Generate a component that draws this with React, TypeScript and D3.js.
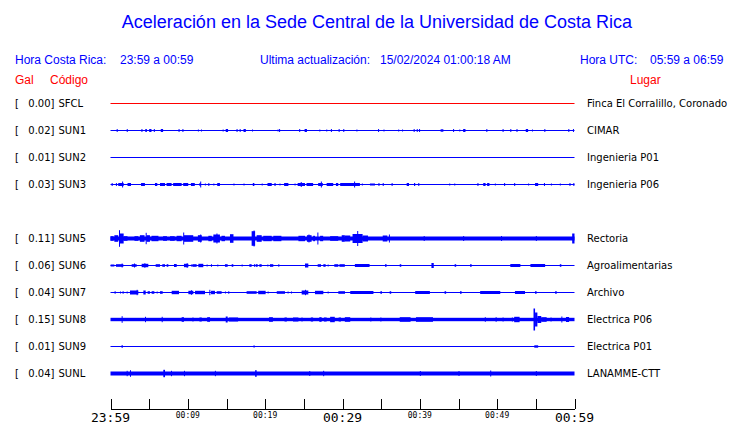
import React from "react";
import * as d3 from "d3";

// ---------- DATA ----------
const codes = ["SFCL", "SUN1", "SUN2", "SUN3", "SUN5", "SUN6", "SUN7", "SUN8", "SUN9", "SUNL"];
const rowSlots = [0, 1, 2, 3, 5, 6, 7, 8, 9, 10];
const pga = ["0.00", "0.02", "0.01", "0.03", "0.11", "0.06", "0.04", "0.15", "0.01", "0.04"];
const places = [
  "Finca El Corralillo, Coronado", "CIMAR", "Ingenieria P01", "Ingenieria P06",
  "Rectoria", "Agroalimentarias", "Archivo", "Electrica P06", "Electrica P01", "LANAMME-CTT",
];
const traceColors = ["#ff0000", "#0000ff", "#0000ff", "#0000ff", "#0000ff", "#0000ff", "#0000ff", "#0000ff", "#0000ff", "#0000ff"];
// background noise half-amplitude of each trace
const baseAmp = [0.5, 0.5, 0.5, 0.5, 2, 0.5, 0.5, 1.7, 0.5, 2];

// events: [start minute, end minute, half amplitude]
const sfclEvents: number[][] = [];
const sun1Events = [
  [0.8, 0.8, 1.5], [2.1, 2.1, 1.5], [4.0, 4.0, 1.5], [4.5, 4.7, 1.5], [5.0, 5.3, 1.5], [5.6, 5.6, 1.5], [6.5, 6.8, 1.5],
  [8.8, 8.8, 1.5], [9.3, 9.3, 1.5], [11.3, 11.3, 1], [11.7, 11.7, 1], [14.5, 14.5, 1], [14.9, 15.2, 1.5], [16.3, 16.3, 1.5],
  [16.7, 16.7, 1.5], [17.2, 17.5, 1.5], [18.3, 18.3, 1], [21.6, 21.6, 1], [21.8, 21.8, 1.5], [24.4, 24.4, 1.5],
  [25.1, 25.4, 1.5], [27.0, 27.0, 1], [27.9, 27.9, 1], [28.5, 28.5, 1.5], [29.5, 29.5, 1.5], [30.1, 30.1, 1.5],
  [31.8, 31.8, 1], [34.6, 34.6, 1.5], [35.3, 35.3, 1], [37.2, 37.2, 1], [37.7, 37.7, 1], [39.2, 39.2, 1.5],
  [39.6, 39.6, 1.5], [39.9, 39.9, 1.5], [42.7, 42.7, 1.5], [42.9, 42.9, 1.5], [44.3, 44.3, 1.5], [45.1, 45.1, 1],
  [45.6, 45.9, 1.5], [48.6, 48.6, 1.5], [50.7, 50.7, 1.5], [51.7, 51.7, 1.5], [52.5, 52.6, 1.5], [53.7, 54.0, 1.5],
  [54.5, 54.5, 1], [56.1, 56.1, 1.5], [59.2, 59.2, 1.5], [59.8, 59.8, 1.5],
];
const sun2Events: number[][] = [];
const sun3Events = [
  [0.15, 0.15, 1.5], [0.7, 0.7, 1.5], [1.0, 1.7, 1.5], [1.5, 1.5, 3], [2.2, 2.65, 1.5], [3.95, 4.45, 1.5],
  [5.75, 6.05, 1.5], [6.4, 7.05, 1.5], [7.25, 7.9, 1.5], [8.1, 9.2, 1.5], [9.4, 10.05, 1.5], [10.4, 10.9, 1.5],
  [11.5, 11.65, 1.5], [11.6, 11.6, 3], [12.2, 12.2, 1], [12.65, 12.65, 1.5], [13.3, 13.3, 1], [13.8, 14.15, 1.5],
  [15.9, 15.9, 1], [17.2, 17.2, 1], [18.4, 18.6, 1.5], [19.55, 19.55, 1], [20.3, 20.85, 1.5], [21.2, 21.35, 1.5],
  [21.85, 21.85, 1], [22.45, 23.0, 1.5], [23.8, 23.8, 1], [24.2, 25.15, 1.5], [24.6, 24.6, 2.5], [25.35, 26.2, 1.5],
  [26.85, 27.45, 1.5], [27.2, 27.2, 3], [27.95, 28.8, 1.5], [29.15, 29.45, 1.5], [29.7, 32.25, 1.5], [31.5, 31.5, 3],
  [32.5, 32.5, 1], [33.55, 34.2, 1], [34.65, 34.65, 1.5], [35.2, 35.2, 1.5], [36.35, 36.35, 1.5], [38.3, 38.6, 1.5],
  [39.25, 39.4, 1.5], [39.8, 39.9, 1.5], [43.8, 43.8, 1], [44.45, 44.45, 1], [47.45, 47.45, 1.5], [48.2, 48.5, 1.5],
  [48.7, 49.0, 1.5], [49.7, 49.7, 1], [50.9, 50.9, 1.5], [52.2, 52.2, 1.5], [54.0, 54.0, 1], [54.9, 55.3, 1.5],
  [56.05, 56.05, 1.5], [56.95, 56.95, 1], [58.1, 58.1, 1], [59.35, 59.35, 1.5], [59.85, 59.85, 1.5],
];
const sun5Events = [
  [0, 0.4, 2.3], [0.5, 1.0, 3.3], [1.1, 1.2, 8.3], [1.2, 1.7, 5], [1.7, 2.2, 2.3], [3.1, 3.6, 2.3], [3.8, 4.4, 3.3],
  [4.55, 4.65, 5.7], [4.65, 5.1, 3.3], [5.3, 6.2, 2.7], [6.8, 7.3, 2.3], [7.7, 8.3, 2.3], [8.55, 9.2, 2.7], [9.4, 9.5, 6],
  [9.5, 10.7, 3.3], [11.3, 11.8, 3.3], [11.6, 11.7, 4], [12.65, 13.1, 2.7], [13.3, 14.15, 4], [13.7, 13.8, 5],
  [14.35, 14.8, 2.7], [15.45, 15.9, 4.3], [18.25, 18.7, 7.3], [18.5, 18.6, 8], [18.9, 19.55, 3.3],
  [19.75, 20.85, 2.7], [21.05, 22.1, 2.7], [24.3, 25.15, 2.7], [25.4, 26.0, 3.3], [25.6, 25.6, 4],
  [26.2, 26.45, 2.7], [26.75, 26.85, 6], [27.1, 27.5, 2.7], [28.4, 29.45, 2.3], [29.9, 30.3, 3.3],
  [30.3, 31.0, 3], [31.3, 32.6, 4.5], [31.9, 32.0, 7.5], [32.6, 33.3, 3], [35.2, 35.8, 3], [36.0, 36.1, 4],
  [40.5, 40.5, 2.5], [45.6, 45.6, 2.5], [50.5, 50.5, 2.5], [55, 55, 2.5], [59.7, 60, 5],
];
const sun6Events = [
  [0.02, 0.5, 1], [0.71, 1.66, 1.3], [1.44, 1.44, 2], [2.74, 3.38, 1.3], [3.04, 3.04, 2], [4.03, 4.89, 1.7], [4.38, 4.38, 2.3],
  [5.84, 6.4, 1.3], [6.7, 7.05, 1.3], [7.26, 7.48, 1.3], [8.21, 8.56, 1.5], [9.5, 10.07, 1.7], [9.85, 9.85, 2.3],
  [10.4, 10.4, 1], [10.58, 11.14, 1.3], [11.36, 12.0, 1.7], [12.43, 12.43, 1], [12.99, 12.99, 1.3], [13.81, 13.81, 1],
  [14.8, 15.15, 1.3], [15.67, 15.88, 1.3], [16.96, 16.96, 1], [17.95, 18.25, 1.3], [18.55, 18.55, 1.3],
  [18.77, 19.03, 1.3], [19.25, 19.55, 1.3], [20.28, 20.28, 1], [20.62, 21.05, 1.3], [21.7, 21.7, 1.3],
  [25.15, 25.58, 2], [26.79, 27.22, 1.3], [27.52, 27.82, 1.3], [28.08, 28.08, 1], [28.94, 29.46, 1.3],
  [29.6, 30.3, 1.3], [31.6, 33.5, 1.5], [35.5, 35.7, 1.3], [37.4, 37.6, 1.3], [41.5, 41.8, 2.5], [44.5, 44.7, 1.3],
  [46.5, 46.7, 1.3], [51.7, 53, 1.5], [54.3, 56.2, 1.5], [58.1, 58.3, 1.3],
];
const sun7Events = [
  [0.5, 0.71, 1], [1.23, 1.23, 1], [1.53, 1.75, 1], [2.09, 2.09, 1], [2.52, 3.6, 2], [3.38, 3.38, 2.7], [4.25, 4.55, 2],
  [4.8, 5.1, 1.3], [5.32, 5.67, 1.3], [5.97, 5.97, 1], [6.4, 6.75, 1.3], [7.91, 8.86, 1.7], [10.07, 10.71, 1.7],
  [10.4, 10.4, 2.3], [10.93, 12.22, 1.7], [12.78, 12.78, 2.7], [13.0, 13.51, 1.7], [13.73, 14.37, 1.3], [14.8, 14.8, 1],
  [15.23, 15.23, 1.3], [17.6, 18.9, 1.3], [19.1, 20.06, 1.7], [20.32, 20.32, 1], [21.5, 22.56, 1.3], [22.9, 22.9, 1],
  [23.34, 23.34, 1], [24.72, 25.58, 2], [25.15, 25.15, 2.7], [26.44, 27.52, 1.7], [28.08, 28.08, 1], [29.46, 30.32, 1.3],
  [31, 34, 1.5], [34.9, 35.1, 1.3], [36.1, 36.3, 1.3], [39.4, 41.3, 1.5], [43.2, 43.4, 1.3], [45.2, 45.4, 1.3],
  [47.8, 50.4, 1.5], [52.3, 53.6, 1.5], [54.9, 55.1, 1.3], [57.5, 57.7, 1.3],
];
const sun8Events = [
  [1.44, 1.44, 3.3], [4.46, 4.46, 2.7], [6.62, 6.62, 2.7], [9.2, 9.5, 2.3], [10.6, 10.6, 2], [11.5, 11.8, 2],
  [12.5, 12.87, 2.3], [14.9, 15.15, 3], [15.3, 16.5, 2], [20.5, 21.0, 2.3], [22.5, 22.8, 2], [23.6, 24.3, 2],
  [24.7, 24.7, 2], [25.9, 26.2, 2], [27.0, 27.3, 2.3], [27.6, 27.95, 2], [28.4, 29.0, 2.7], [29.5, 29.8, 2],
  [30.3, 31, 2.3], [33.6, 33.6, 2], [34.9, 34.9, 2], [37.4, 38.8, 2.3], [39.5, 41.7, 2.3],
  [48.4, 48.4, 2.3], [49.8, 49.8, 2.3], [50.7, 50.7, 2], [51.9, 51.9, 2], [52.2, 52.9, 2.7], [54.7, 54.9, 11],
  [54.9, 55.2, 7], [55.2, 55.7, 3.5], [55.7, 56.4, 2.3], [56.9, 56.9, 2], [58.3, 58.3, 3], [58.9, 59.3, 2.5],
];
const sun9Events = [[1.44, 1.44, 1.5], [18.5, 18.5, 1.2], [54.8, 55.3, 1.2]];
const sunlEvents = [
  [2.09, 2.09, 2.7], [2.52, 2.52, 3.3], [6.83, 7.05, 3.7], [7.82, 7.82, 2.7], [9.5, 9.5, 2.7], [13.5, 13.5, 2.7],
  [18.7, 18.9, 3.3], [25.7, 25.7, 2.5], [27.5, 27.5, 2.7], [40, 40, 2.5], [45, 45, 2.5], [49.1, 49.1, 3], [55, 55, 2.5],
];
const traceEvents = [sfclEvents, sun1Events, sun2Events, sun3Events, sun5Events, sun6Events, sun7Events, sun8Events, sun9Events, sunlEvents];

const tickMinutes = d3.range(0, 61, 5);
const tickLabels = ["23:59", "00:09", "00:19", "00:29", "00:39", "00:49", "00:59"];
const tickLabelMinutes = [0, 10, 20, 30, 40, 50, 60];
const bigLabels = [true, false, false, true, false, false, true];

// ---------- LAYOUT ----------
const W = 740, H = 423;
const x = d3.scaleLinear().domain([0, 60]).range([110.5, 574.5]);
const rowY = d3.scaleLinear().domain([0, 10]).range([103.5, 373.5]);
const amp = d3.scaleLinear().domain([0, 10]).range([0, 10]);
const axisY = 409;

const headerFont = "'Liberation Sans', Arial, sans-serif";
const labelFont = "'DejaVu Sans', sans-serif";
const BLUE = "#0000ff";

export default function App() {
  return (
    <svg width={W} height={H} style={{ position: "absolute", left: 0, top: 0, background: "#fff" }}>
      <rect x={0} y={0} width={W} height={H} fill="#fff" />
      <text x={377} y={28} textAnchor="middle" fontFamily={headerFont} fontSize={18} fill={BLUE}>
        Aceleración en la Sede Central de la Universidad de Costa Rica
      </text>
      <g fontFamily={headerFont} fontSize={12} fill={BLUE}>
        <text x={15} y={64}>Hora Costa Rica:</text>
        <text x={120} y={64}>23:59 a 00:59</text>
        <text x={260} y={64}>Ultima actualización:</text>
        <text x={380} y={64}>15/02/2024 01:00:18 AM</text>
        <text x={580} y={64}>Hora UTC:</text>
        <text x={650} y={64}>05:59 a 06:59</text>
      </g>
      <g fontFamily={headerFont} fontSize={12} fill="#ff0000">
        <text x={15} y={84}>Gal</text>
        <text x={50} y={84}>Código</text>
        <text x={630} y={84}>Lugar</text>
      </g>
      {codes.map((c, i) => {
        const cy = rowY(rowSlots[i]);
        const col = traceColors[i];
        return (
          <g key={c}>
            <g fontFamily={labelFont} fontSize={10} fill="#000">
              <text x={15} y={cy + 3.5}>[</text>
              <text x={54.5} y={cy + 3.5} textAnchor="end">{pga[i] + "]"}</text>
              <text x={58.5} y={cy + 3.5}>{c}</text>
              <text x={587} y={cy + 3.5}>{places[i]}</text>
            </g>
            <rect x={x(0)} width={x(60) - x(0)} y={cy - amp(baseAmp[i])} height={2 * amp(baseAmp[i])} fill={col} />
            {traceEvents[i].map((e, j) => {
              const x0 = x(e[0]);
              const w = Math.max(1, x(e[1]) - x0);
              return (
                <rect key={j} x={Math.min(x0, x(60) - w)} width={w} y={cy - amp(e[2])} height={2 * amp(e[2])} fill={col} />
              );
            })}
          </g>
        );
      })}
      <g stroke="#000" strokeWidth={1} shapeRendering="crispEdges">
        <line x1={x(0)} x2={x(60)} y1={axisY} y2={axisY} />
        {tickMinutes.map((m) => (
          <line key={m} x1={Math.round(x(m)) + 0.5} x2={Math.round(x(m)) + 0.5} y1={axisY} y2={axisY - 10} />
        ))}
      </g>
      <g fontFamily="'DejaVu Sans Mono', monospace" fill="#000" textAnchor="middle">
        {tickLabels.map((t, i) => (
          <text key={t} x={x(tickLabelMinutes[i])} y={bigLabels[i] ? 421.5 : 418} fontSize={bigLabels[i] ? 13 : 8}>
            {t}
          </text>
        ))}
      </g>
    </svg>
  );
}
